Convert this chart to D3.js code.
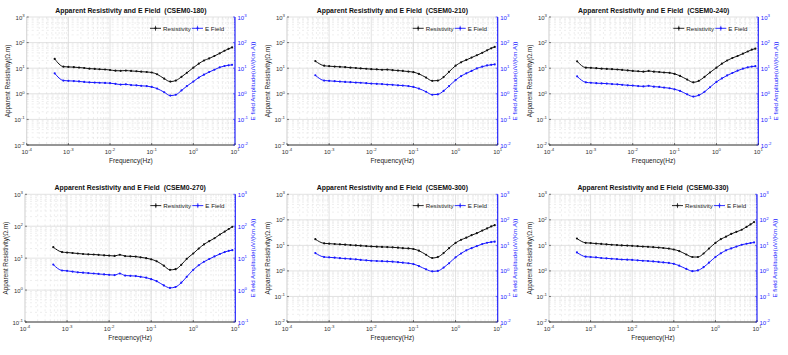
<!DOCTYPE html>
<html><head><meta charset="utf-8">
<script src="https://d3js.org/d3.v7.min.js"></script>
<style>body{margin:0;background:#fff}svg text{font-family:"Liberation Sans",Arial,sans-serif}</style>
</head><body><svg id="c" width="788" height="355"></svg>
<script>
// ---------- data ----------
const freq = [0.00047, 0.00076, 0.001, 0.00135, 0.0018, 0.0024, 0.0032, 0.0043, 0.0056, 0.0076, 0.01, 0.0135, 0.018, 0.024, 0.032, 0.043, 0.056, 0.076, 0.1, 0.135, 0.2, 0.28, 0.38, 0.52, 0.7, 1, 1.35, 1.8, 2.4, 3.2, 4.3, 5.6, 7, 8.5];
const titles = ["CSEM0-180", "CSEM0-210", "CSEM0-240", "CSEM0-270", "CSEM0-300", "CSEM0-330"];
const res180 = [23, 11.5, 11.2, 11, 10.6, 10.2, 9.6, 9.4, 9.1, 8.9, 8.5, 8.0, 7.9, 8.1, 7.8, 7.6, 7.3, 7.1, 6.8, 5.8, 3.9, 3.0, 3.3, 4.6, 6.6, 10.5, 15, 20, 24, 30, 38, 48, 57, 65];
const ef180 = [6.3, 3.3, 3.2, 3.15, 3.05, 2.9, 2.8, 2.75, 2.7, 2.65, 2.6, 2.45, 2.3, 2.35, 2.2, 2.15, 2.05, 2.0, 1.85, 1.6, 1.15, 0.85, 0.92, 1.35, 2.0, 3.0, 4.3, 5.6, 7.1, 8.7, 10.8, 12.2, 13, 13.5];
const res210 = [19, 12.5, 12, 11.6, 11.3, 11, 10.5, 10.2, 9.8, 9.5, 9.2, 9.0, 8.7, 8.8, 8.4, 8.1, 7.8, 7.4, 7.0, 6.0, 4.3, 3.2, 3.3, 4.5, 7.2, 12.5, 17, 21, 26, 32, 40, 50, 60, 68];
const ef210 = [5.3, 3.3, 3.2, 3.1, 3.0, 2.9, 2.85, 2.75, 2.7, 2.6, 2.5, 2.45, 2.4, 2.3, 2.25, 2.15, 2.1, 2.0, 1.85, 1.6, 1.2, 0.92, 0.95, 1.3, 2.0, 3.4, 4.9, 6.3, 7.8, 9.8, 11.5, 12.8, 13.6, 14];
const res240 = [18.5, 10.5, 10.3, 10.0, 9.6, 9.4, 9.2, 8.9, 8.6, 8.2, 7.8, 7.6, 7.3, 7.8, 7.3, 7.1, 6.8, 6.6, 6.0, 5.0, 3.6, 2.8, 3.2, 4.6, 6.8, 10.5, 15, 20, 25, 30, 37, 45, 53, 58];
const ef240 = [4.8, 2.8, 2.7, 2.6, 2.55, 2.5, 2.4, 2.35, 2.25, 2.15, 2.1, 2.0, 1.95, 2.05, 1.9, 1.85, 1.75, 1.65, 1.5, 1.3, 0.95, 0.78, 0.88, 1.2, 1.8, 2.9, 4.0, 5.2, 6.5, 8.0, 9.6, 10.8, 11.6, 12];
const res270 = [22, 15.5, 15, 14.5, 14, 13.5, 13.2, 13, 12.7, 12.3, 12, 11.7, 12.8, 11.6, 11.4, 11.2, 10.6, 10, 9.2, 8.0, 5.8, 4.3, 4.5, 6.2, 9.5, 14, 20, 27, 34, 42, 55, 68, 82, 96];
const ef270 = [6.3, 4.1, 4.0, 3.8, 3.6, 3.5, 3.4, 3.3, 3.2, 3.1, 3.0, 2.95, 3.3, 2.85, 2.8, 2.75, 2.6, 2.45, 2.2, 1.9, 1.4, 1.17, 1.25, 1.7, 2.6, 4.3, 6.0, 7.7, 9.4, 11.3, 13.5, 15.5, 17, 17.8];
const res300 = [17.5, 12, 11.7, 11.3, 11, 10.7, 10.3, 10, 9.7, 9.4, 9.1, 8.9, 8.7, 8.6, 8.4, 8.1, 7.8, 7.6, 7.2, 6.2, 4.3, 3.2, 3.5, 5.0, 7.8, 12.5, 16.5, 20, 25, 30, 38, 46, 55, 62];
const ef300 = [5.0, 3.5, 3.4, 3.3, 3.15, 3.05, 2.95, 2.85, 2.7, 2.6, 2.5, 2.45, 2.4, 2.35, 2.3, 2.2, 2.1, 2.0, 1.85, 1.55, 1.15, 0.96, 1.0, 1.35, 2.0, 3.4, 4.8, 6.4, 7.8, 9.4, 11.3, 12.7, 13.5, 14];
const res330 = [18.6, 12.6, 12.3, 11.8, 11.4, 11, 10.6, 10.3, 10, 9.8, 9.6, 9.3, 9.0, 8.8, 8.5, 8.2, 7.9, 7.5, 6.9, 6.0, 4.4, 3.5, 3.5, 4.8, 7.5, 12.5, 17.5, 22, 28, 34, 41, 53, 66, 82];
const ef330 = [5.3, 3.6, 3.5, 3.4, 3.2, 3.1, 3.0, 2.9, 2.8, 2.75, 2.7, 2.6, 2.5, 2.45, 2.35, 2.25, 2.15, 2.05, 1.9, 1.6, 1.2, 0.98, 1.05, 1.4, 2.1, 3.5, 4.9, 6.4, 7.6, 9.0, 10.6, 11.6, 12.4, 13];
const xTickExp = [-4, -3, -2, -1, 0, 1];
const yTickExp5 = [-2, -1, 0, 1, 2, 3];
const yTickExp4 = [-1, 0, 1, 2, 3];
const seriesNames = ["Resistivity", "E Field"];

// ---------- layout ----------
const panels = [
  {title: titles[0], res: res180, ef: ef180, yt: yTickExp5, x0: 26.7, x1: 235, y0: 17, y1: 145},
  {title: titles[1], res: res210, ef: ef210, yt: yTickExp5, x0: 287, x1: 497.7, y0: 17, y1: 145},
  {title: titles[2], res: res240, ef: ef240, yt: yTickExp5, x0: 549, x1: 758.3, y0: 17, y1: 145},
  {title: titles[3], res: res270, ef: ef270, yt: yTickExp4, x0: 25, x1: 235.3, y0: 194.3, y1: 322},
  {title: titles[4], res: res300, ef: ef300, yt: yTickExp5, x0: 287, x1: 497.7, y0: 194.3, y1: 322},
  {title: titles[5], res: res330, ef: ef330, yt: yTickExp5, x0: 549, x1: 757, y0: 194.3, y1: 322}
];
const BLUE = "#1a1aff";
const svg = d3.select("#c");

function pow10Label(sel, exp, anchor) {
  const t = sel.append("text").attr("text-anchor", anchor).style("font-size", "6px");
  t.append("tspan").text("10");
  t.append("tspan").attr("dy", "-2.6").style("font-size", "4.3px").text(exp);
  return t;
}

panels.forEach(p => {
  const g = svg.append("g");
  const x = d3.scaleLog().domain([1e-4, 1e1]).range([p.x0, p.x1]);
  const ymin = Math.pow(10, d3.min(p.yt)), ymax = Math.pow(10, d3.max(p.yt));
  const yL = d3.scaleLog().domain([ymin, ymax]).range([p.y1, p.y0]);
  const yR = d3.scaleLog().domain([ymin, ymax]).range([p.y1, p.y0]);

  // minor grid
  const minorX = [], minorY = [];
  for (let e = -4; e < 1; e++) for (let k = 2; k <= 9; k++) minorX.push(k * Math.pow(10, e));
  for (let e = d3.min(p.yt); e < d3.max(p.yt); e++) for (let k = 2; k <= 9; k++) minorY.push(k * Math.pow(10, e));
  g.append("g").selectAll("line").data(minorX).join("line")
    .attr("x1", d => x(d)).attr("x2", d => x(d)).attr("y1", p.y0).attr("y2", p.y1)
    .attr("stroke", "#e2e2e2").attr("stroke-width", 0.6).attr("stroke-dasharray", "2,3");
  g.append("g").selectAll("line").data(minorY).join("line")
    .attr("y1", d => yL(d)).attr("y2", d => yL(d)).attr("x1", p.x0).attr("x2", p.x1)
    .attr("stroke", "#e2e2e2").attr("stroke-width", 0.6).attr("stroke-dasharray", "2,3");
  // major grid
  g.append("g").selectAll("line").data(xTickExp).join("line")
    .attr("x1", d => x(Math.pow(10, d))).attr("x2", d => x(Math.pow(10, d))).attr("y1", p.y0).attr("y2", p.y1)
    .attr("stroke", "#d6d6d6").attr("stroke-width", 0.7);
  g.append("g").selectAll("line").data(p.yt).join("line")
    .attr("y1", d => yL(Math.pow(10, d))).attr("y2", d => yL(Math.pow(10, d))).attr("x1", p.x0).attr("x2", p.x1)
    .attr("stroke", "#d6d6d6").attr("stroke-width", 0.7);

  // axes lines
  g.append("line").attr("x1", p.x0).attr("x2", p.x1).attr("y1", p.y1).attr("y2", p.y1)
    .attr("stroke", "#262626").attr("stroke-width", 0.9);
  g.append("line").attr("x1", p.x0).attr("x2", p.x0).attr("y1", p.y0).attr("y2", p.y1)
    .attr("stroke", "#c8c8c8").attr("stroke-width", 0.5);
  g.append("line").attr("x1", p.x1).attr("x2", p.x1).attr("y1", p.y0).attr("y2", p.y1)
    .attr("stroke", BLUE).attr("stroke-width", 1.1);

  // ticks
  g.append("g").selectAll("line").data(xTickExp).join("line")
    .attr("x1", d => x(Math.pow(10, d))).attr("x2", d => x(Math.pow(10, d))).attr("y1", p.y1).attr("y2", p.y1 - 2)
    .attr("stroke", "#262626").attr("stroke-width", 0.6);
  g.append("g").selectAll("line").data(p.yt).join("line")
    .attr("y1", d => yL(Math.pow(10, d))).attr("y2", d => yL(Math.pow(10, d))).attr("x1", p.x0).attr("x2", p.x0 + 2)
    .attr("stroke", "#262626").attr("stroke-width", 0.6);
  g.append("g").selectAll("line").data(p.yt).join("line")
    .attr("y1", d => yR(Math.pow(10, d))).attr("y2", d => yR(Math.pow(10, d))).attr("x1", p.x1).attr("x2", p.x1 - 2)
    .attr("stroke", BLUE).attr("stroke-width", 0.6);
  g.append("g").selectAll("line").data(minorY).join("line")
    .attr("y1", d => yR(d)).attr("y2", d => yR(d)).attr("x1", p.x1).attr("x2", p.x1 - 1)
    .attr("stroke", BLUE).attr("stroke-width", 0.5);

  // tick labels
  xTickExp.forEach(e => {
    pow10Label(g, e, "middle").attr("x", x(Math.pow(10, e))).attr("y", p.y1 + 9).attr("fill", "#333");
  });
  p.yt.forEach(e => {
    pow10Label(g, e, "end").attr("x", p.x0 - 2).attr("y", yL(Math.pow(10, e)) + 2.5).attr("fill", "#333");
    pow10Label(g, e, "start").attr("x", p.x1 + 2.5).attr("y", yR(Math.pow(10, e)) + 2.5).attr("fill", BLUE);
  });

  // titles & labels
  const cx = (p.x0 + p.x1) / 2;
  g.append("text").attr("x", cx).attr("y", p.y0 - 4).attr("text-anchor", "middle")
    .style("font-size", "6.9px").style("font-weight", "bold").attr("fill", "#111")
    .text("Apparent Resistivity and E Field\u00a0\u00a0(" + p.title + ")");
  g.append("text").attr("x", cx).attr("y", p.y1 + 18).attr("text-anchor", "middle")
    .style("font-size", "6.6px").attr("fill", "#222").text("Frequency(Hz)");
  const cy = (p.y0 + p.y1) / 2;
  g.append("text").attr("transform", `translate(${p.x0 - 17},${cy}) rotate(-90)`).attr("text-anchor", "middle")
    .style("font-size", "6.4px").attr("fill", "#222").text("Apparent Resistivity(Ω.m)");
  g.append("text").attr("transform", `translate(${p.x1 + 19.5},${cy}) rotate(-90)`).attr("text-anchor", "middle")
    .style("font-size", "6.2px").attr("fill", BLUE).text("E field Amplitude(uV/(Km.A))");

  // series
  const lineL = d3.line().x((d, i) => x(freq[i])).y(d => yL(d)).curve(d3.curveMonotoneX);
  const lineR = d3.line().x((d, i) => x(freq[i])).y(d => yR(d)).curve(d3.curveMonotoneX);
  g.append("path").datum(p.res).attr("d", lineL).attr("fill", "none").attr("stroke", "#111").attr("stroke-width", 1);
  g.append("g").selectAll("circle").data(p.res).join("circle")
    .attr("cx", (d, i) => x(freq[i])).attr("cy", d => yL(d)).attr("r", 1.1).attr("fill", "#111");
  g.append("path").datum(p.ef).attr("d", lineR).attr("fill", "none").attr("stroke", BLUE).attr("stroke-width", 1);
  g.append("g").selectAll("circle").data(p.ef).join("circle")
    .attr("cx", (d, i) => x(freq[i])).attr("cy", d => yR(d)).attr("r", 1.1).attr("fill", BLUE);

  // legend
  const ly = p.y0 + 11.3, lx = p.x1 - 85;
  [["#111", seriesNames[0], lx], [BLUE, seriesNames[1], lx + 42]].forEach(([c, name, sx]) => {
    g.append("line").attr("x1", sx).attr("x2", sx + 11).attr("y1", ly).attr("y2", ly).attr("stroke", c).attr("stroke-width", 0.9);
    g.append("line").attr("x1", sx + 5.5).attr("x2", sx + 5.5).attr("y1", ly - 2.5).attr("y2", ly + 2.5).attr("stroke", c).attr("stroke-width", 0.7);
    g.append("circle").attr("cx", sx + 5.5).attr("cy", ly).attr("r", 1.1).attr("fill", c);
    g.append("text").attr("x", sx + 13).attr("y", ly + 2.2).style("font-size", "6.2px").attr("fill", "#222").text(name);
  });
});
</script></body></html>
